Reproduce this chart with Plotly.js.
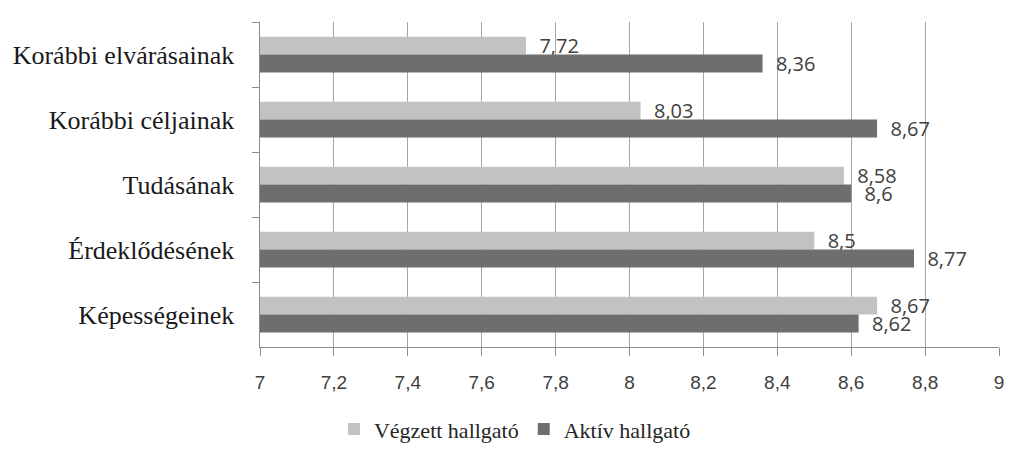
<!DOCTYPE html>
<html>
<head>
<meta charset="utf-8">
<script src="https://cdn.plot.ly/plotly-3.0.1.min.js"></script>
<style>html,body{margin:0;padding:0;background:#fff;}#chart{width:1024px;height:462px;}</style>
</head>
<body>
<div id="chart"></div>
<script>
const categories = ["Korábbi elvárásainak", "Korábbi céljainak", "Tudásának", "Érdeklődésének", "Képességeinek"];
const seriesNames = ["Végzett hallgató", "Aktív hallgató"];
const vegzett = [7.72, 8.03, 8.58, 8.5, 8.67];
const aktiv = [8.36, 8.67, 8.6, 8.77, 8.62];
const xTicks = [7, 7.2, 7.4, 7.6, 7.8, 8, 8.2, 8.4, 8.6, 8.8, 9];

const fmt = v => '  ' + String(v).replace('.', ',');
const labelFont = {family: "Open Sans, DejaVu Sans, sans-serif", size: 20, color: "#404040"};

const traces = [
  {type: 'bar', orientation: 'h', name: seriesNames[0], y: categories, x: vegzett,
   marker: {color: '#c2c2c2'}, text: vegzett.map(fmt), textposition: 'outside', constraintext: 'none',
   textfont: labelFont, cliponaxis: false, hoverinfo: 'x+y'},
  {type: 'bar', orientation: 'h', name: seriesNames[1], y: categories, x: aktiv,
   marker: {color: '#6e6e6e'}, text: aktiv.map(fmt), textposition: 'outside', constraintext: 'none',
   textfont: labelFont, cliponaxis: false, hoverinfo: 'x+y'}
];

const layout = {
  width: 1024, height: 462,
  margin: {l: 260, r: 25, t: 22, b: 112},
  paper_bgcolor: '#fff', plot_bgcolor: '#fff',
  separators: ',.',
  barmode: 'group', bargap: 0.45, bargroupgap: 0,
  showlegend: true,
  legend: {orientation: 'h', x: 0.345, xanchor: 'center', y: -0.253, yanchor: 'middle',
           font: {family: 'Liberation Serif, Times New Roman, serif', size: 22, color: '#262626'},
           traceorder: 'normal', itemwidth: 30},
  xaxis: {range: [7, 9], tickvals: xTicks, showgrid: true, gridcolor: '#a6a6a6', gridwidth: 1,
          zeroline: false, showline: true, linecolor: '#8c8c8c', linewidth: 1,
          ticks: 'outside', ticklen: 8, tickcolor: '#8c8c8c', ticklabelstandoff: 10,
          tickfont: {family: 'Liberation Sans Narrow, Arial Narrow, Liberation Sans, sans-serif', size: 19, color: '#404040'}},
  yaxis: {autorange: 'reversed', showline: true, linecolor: '#8c8c8c', linewidth: 1,
          ticks: 'outside', tickson: 'boundaries', ticklen: 7, tickcolor: '#8c8c8c',
          showgrid: false, ticksuffix: '   ',
          tickfont: {family: 'Liberation Serif, Times New Roman, serif', size: 26, color: '#1a1a1a'}}
};

Plotly.newPlot('chart', traces, layout, {displayModeBar: false, staticPlot: true});
</script>
</body>
</html>
